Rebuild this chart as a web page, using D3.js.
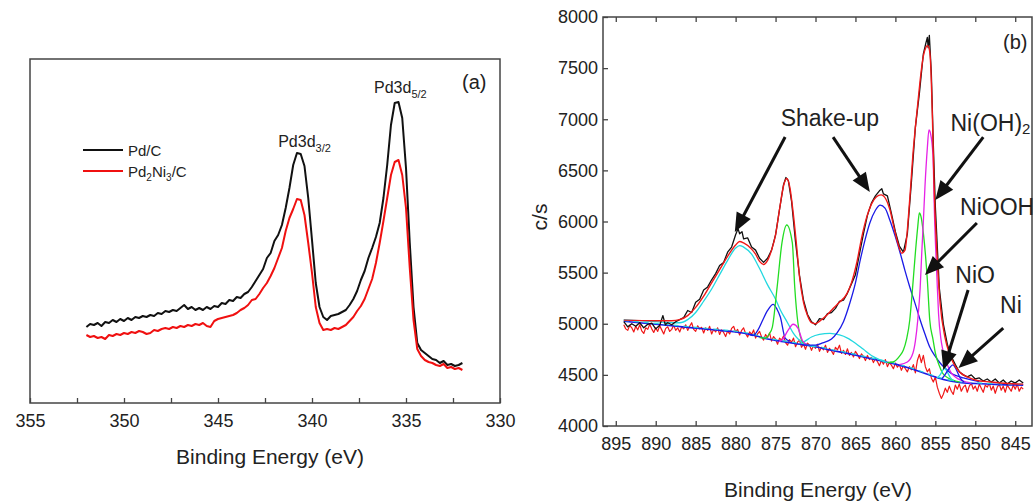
<!DOCTYPE html>
<html><head><meta charset="utf-8">
<script src="https://cdn.jsdelivr.net/npm/d3@7"></script>
<style>
body{margin:0;background:#fff}
svg{display:block}
text{font-family:"Liberation Sans",Arial,Helvetica,sans-serif;fill:#222}
</style>
</head><body>
<svg id="c" width="1035" height="501"></svg>
<script>
// ---------- Panel (a): Pd 3d, arbitrary intensity ----------
const energyA = d3.range(101).map(i => +(352 - 0.2 * i).toFixed(1)); // 352.0 ... 332.0 eV sampling grid
const pdC = [76,79,78,80,77,81,80,83,81,84, 82,85,83,86,85,87,86,88,87,90, 89,92,91,93,92,95,98,94,96,93,
  95,93,96,94,97,96,100,99,103,102, 106,105,109,111,116,122,128,134,145,150, 162,168,178,195,215,238,250,249,237,205,
  163,120,96,86,83,87,88,89,91,93, 98,104,112,123,132,145,155,166,180,205, 238,278,300,301,285,235,160,96,60,53,
  50,47,44,43,40,42,38,39,37,38, 40];
const pd2ni3C = [68,66,67,65,66,64,68,67,69,68, 70,69,71,70,72,71,69,70,73,72, 74,75,74,76,75,77,76,78,77,79,
  78,80,77,76,82,84,85,86,87,88, 90,93,95,98,103,104,109,115,120,127, 135,145,155,172,185,194,204,203,188,160,
  130,96,80,73,74,73,75,74,76,78, 82,86,92,97,104,114,124,140,160,182, 205,228,241,243,228,195,135,83,54,47,
  43,41,40,38,37,39,35,36,34,35, 33];
const xTicksA = [355,350,345,340,335,330];
const xMinorA = [352.5,347.5,342.5,337.5,332.5];

// ---------- Panel (b): Ni 2p, counts per second ----------
const rawB = [[894.0,5020],[893.5,4970],[893.0,5000],[892.5,4975],[892.0,5010],[891.5,4960],[891.0,4995],[890.5,5005],[890.0,4950],[889.5,4985],
 [889.1,5080],[888.8,4990],[888.5,5010],[888.0,4990],[887.5,5020],[887.0,5040],[886.5,5060],[886.0,5130],[885.5,5110],[885.0,5210],
 [884.5,5240],[884.0,5330],[883.5,5360],[883.0,5430],[882.5,5490],[882.0,5570],[881.5,5600],[881.0,5700],[880.5,5750],[880.0,5870],
 [879.7,5930],[879.5,5880],[879.2,5900],[879.0,5830],[878.5,5840],[878.0,5750],[877.5,5720],[877.0,5640],[876.5,5600],[876.0,5640],
 [875.5,5720],[875.0,5870],[874.5,6120],[874.0,6360],[873.7,6430],[873.4,6400],[873.0,6200],[872.5,5800],[872.0,5470],[871.5,5230],
 [871.0,5090],[870.5,5020],[870.0,4990],[869.5,5050],[869.0,5040],[868.5,5100],[868.0,5110],[867.5,5150],[867.0,5220],[866.5,5230],
 [866.0,5300],[865.5,5390],[865.0,5480],[864.5,5680],[864.0,5880],[863.5,6060],[863.0,6180],[862.5,6250],[862.0,6300],[861.7,6320],
 [861.5,6270],[861.0,6250],[860.5,6080],[860.0,5900],[859.5,5760],[859.0,5700],[858.5,5880],[858.0,6380],[857.5,6920],[857.0,7250],
 [856.5,7640],[856.2,7740],[856.0,7800],[855.9,7700],[855.75,7820],[855.5,7450],[855.25,6750],[855.0,6150],[854.5,5350],[854.0,5000],
 [853.5,4800],[853.0,4680],[852.5,4600],[852.0,4530],[851.5,4500],[851.0,4480],[850.5,4500],[850.0,4460],[849.5,4470],[849.0,4440],
 [848.5,4460],[848.0,4430],[847.5,4460],[847.0,4420],[846.5,4450],[846.0,4410],[845.5,4440],[845.0,4420],[844.5,4450],[844.0,4420]];
const fitB = [[894,5035],[890,5030],[888,5030],[887,5040],[886,5080],[885,5160],[884,5270],[883,5400],[882,5530],[881,5660],[880,5770],
 [879.5,5805],[879,5790],[878,5730],[877.5,5680],[877,5610],[876.5,5580],[876,5620],[875.5,5720],[875,5870],[874.5,6120],[874,6350],
 [873.6,6420],[873.2,6330],[872.8,6090],[872.4,5790],[872,5460],[871.5,5210],[871,5080],[870.5,5010],[870,5000],[869.4,5030],[868.5,5090],
 [867.8,5150],[867,5210],[866.1,5290],[865.5,5400],[864.8,5610],[864.2,5850],[863.6,6040],[863,6170],[862.4,6240],[861.8,6260],[861.2,6220],
 [860.7,6120],[860.2,5950],[859.7,5790],[859.2,5690],[858.8,5720],[858.4,6015],[858.1,6330],[857.8,6660],[857.5,6920],[857.2,7150],
 [856.8,7450],[856.5,7620],[856.2,7700],[856.0,7720],[855.8,7700],[855.6,7560],[855.36,7000],[855.15,6330],[854.8,5690],[854.4,5200],
 [853.8,4870],[853.2,4700],[852.7,4610],[852,4530],[851,4480],[850,4450],[848,4430],[846,4415],[844,4410]];
// second (red, noisy) trace near the background, sampled every 0.25 eV from 894.00 down to 844.00; one row per eV
const energyR = d3.range(201).map(i => 894 - 0.25 * i);
const residB = [
 4990,4950,4935,4985, 4960,4920,4975,4940, 4990,4930,4905,4960, 4945,4995,4950,4915, 4960,4925,4980,4940,
 4900,4955,4970,4925, 4945,4985,4935,4960, 4920,4970,4950,4990, 4935,4975,5010,4945, 4925,4980,4950,4965,
 4910,4960,4935,4975, 4900,4945,4920,4960, 4895,4940,4915,4875, 4930,4900,4955,4975, 4920,4945,4890,4935,
 4960,4905,4870,4920, 4895,4940,4860,4900, 4925,4870,4840,4895, 4865,4910,4830,4875, 4850,4800,4860,4840,
 4880,4815,4790,4845, 4820,4860,4775,4820, 4840,4770,4800,4750, 4810,4790,4740,4785, 4760,4800,4730,4770,
 4745,4790,4720,4760, 4735,4700,4770,4745, 4790,4710,4740,4700, 4755,4690,4720,4675, 4730,4700,4660,4705,
 4680,4640,4690,4650, 4670,4620,4660,4630, 4590,4640,4605,4650, 4580,4620,4595,4560, 4615,4575,4600,4545,
 4590,4560,4530,4580, 4550,4600,4520,4640, 4700,4620,4690,4580, 4530,4560,4470,4430, 4480,4380,4320,4270,
 4310,4370,4330,4390, 4340,4310,4400,4360, 4410,4340,4380,4400, 4330,4390,4420,4360, 4390,4340,4410,4370,
 4330,4400,4380,4420, 4350,4390,4320,4380, 4410,4350,4390,4330, 4400,4370,4340,4400, 4360,4410,4340,4380,
 4360];
const baseB = [[894,5025],[890,4995],[886,4965],[882,4935],[880,4920],[878,4893],[876,4850],[874,4825],[872,4800],[870,4775],[868,4740],
 [866,4710],[864,4675],[862,4640],[860,4605],[858,4560],[856,4505],[854,4455],[852,4425],[850,4415],[847,4405],[844,4400]];
const shake880 = [[894,5040],[890,5020],[887,5010],[886,5040],[885,5110],[884,5220],[883,5340],[882,5480],[881,5620],[880,5740],[879.5,5765],
 [879,5750],[878,5680],[877,5540],[876,5380],[875,5240],[874.4,5134],[873.5,5010],[872.8,4910],[871.3,4800],[870,4775]];
const peak875 = [[878.5,4900],[877.8,4885],[877.2,4940],[876.6,5037],[876,5130],[875.3,5190],[874.8,5140],[874.4,5066],[873.8,4860],[873.2,4830]];
const peak873 = [[877,4865],[876.3,4860],[875.8,4900],[875.4,4968],[874.8,5360],[874.2,5790],[873.6,5966],[872.9,5790],[872.6,5360],[872.2,5007],[871.6,4820],[871,4795]];
const peak872 = [[874.6,4826],[874.2,4840],[873.4,4940],[872.8,4995],[872.2,4958],[871.6,4830],[871.0,4795]];
const shake868 = [[872,4800],[871.3,4830],[870.5,4870],[869.5,4895],[868.2,4905],[867,4890],[866,4860],[865,4810],[864,4750],[863,4690],[862,4650],[861,4620]];
const shake862 = [[872,4800],[871,4790],[870,4790],[869.1,4812],[868,4850],[867.3,4910],[866.5,5020],[865.7,5203],[865,5400],[864.4,5623],
 [863.8,5820],[863.2,5985],[862.5,6110],[861.9,6160],[861.3,6130],[860.7,6015],[860,5850],[859.4,5692],[858.8,5520],[858.2,5360],[857.5,5190],
 [856.9,5037],[856.3,4900],[855.7,4773],[855,4680],[854.4,4616],[853.7,4560],[853.1,4518],[852.3,4490],[851.5,4470],[850.5,4450],[849.5,4435]];
const niooh = [[861,4620],[860.3,4626],[859.5,4680],[859,4743],[858.6,4850],[858.2,5037],[857.9,5300],[857.5,5692],[857.2,5950],[857.0,6083],
 [856.8,6050],[856.5,5887],[856.0,5428],[855.7,5037],[855.3,4850],[855.0,4714],[854.5,4590],[854.1,4518],[853.4,4470],[852.8,4450],[852,4430]];
const nioh2 = [[859.5,4600],[858.5,4626],[857.8,4714],[857.5,4830],[857.2,5037],[856.9,5350],[856.7,5692],[856.5,6000],[856.3,6337],[856.0,6720],
 [855.8,6895],[855.6,6860],[855.3,6650],[855.1,6050],[854.8,5450],[854.6,5100],[854.3,4850],[854.1,4760],[853.8,4660],[853.5,4600],[853.0,4520],
 [852.5,4479],[851.5,4440],[850.5,4420]];
const nio = [[854.8,4470],[854.4,4500],[854.1,4540],[853.9,4565],[853.7,4555],[853.5,4528],[853.1,4470],[852.7,4440]];
const niMetal = [[854.2,4460],[853.8,4500],[853.4,4550],[853.1,4580],[852.8,4597],[852.5,4570],[852.2,4520],[851.9,4470],[851.4,4430]];
const xTicksB = [895,890,885,880,875,870,865,860,855,850,845];
const yTicksB = [4000,4500,5000,5500,6000,6500,7000,7500,8000];
const arrowsB = [
  {tail:[873.8,6826], tip:[880.1,5897]},
  {tail:[867.8,6826], tip:[863.2,6289]},
  {tail:[849.0,6826], tip:[855.0,6210]},
  {tail:[849.8,5985], tip:[856.3,5477]},
  {tail:[850.9,5330], tip:[854.0,4548]},
  {tail:[846.5,4958], tip:[852.1,4567]}];
const labelsB = [
  {t:'Shake-up', sub:'', at:[868.2,6934], anchor:'middle'},
  {t:'Ni(OH)', sub:'2', at:[853.1,6885], anchor:'start'},
  {t:'NiOOH', sub:'', at:[851.9,6064], anchor:'start'},
  {t:'NiO', sub:'', at:[852.5,5399], anchor:'start'},
  {t:'Ni', sub:'', at:[846.9,5105], anchor:'start'}];

const svg = d3.select('#c');
const FONT = '"Liberation Sans", Arial, Helvetica, sans-serif';
function styleAxis(g, fs) {
  g.attr('font-size', fs).attr('font-family', FONT);
  g.select('.domain').remove();
  g.selectAll('line').attr('stroke', '#444').attr('stroke-width', 1.3);
  g.selectAll('text').attr('fill', '#222');
}

// ================= Panel A =================
const xA = d3.scaleLinear().domain([355, 330]).range([30, 500]);
const yA = d3.scaleLinear().domain([0, 344]).range([403, 59]);
const gA = svg.append('g');
gA.append('g').attr('transform', 'translate(0,403)')
  .call(d3.axisBottom(xA).tickValues(xTicksA).tickSize(-5).tickPadding(11).tickFormat(d3.format('d')))
  .call(g => styleAxis(g, 18));
gA.append('g').attr('transform', 'translate(0,403)')
  .call(d3.axisBottom(xA).tickValues(xMinorA).tickSize(-5).tickFormat(''))
  .call(g => styleAxis(g, 18));
gA.append('rect').attr('x', xA(355)).attr('y', yA(344)).attr('width', xA(330) - xA(355)).attr('height', yA(0) - yA(344))
  .attr('fill', 'none').attr('stroke', '#444').attr('stroke-width', 1.5);
const lineA = d3.line().x((d, i) => xA(energyA[i])).y(d => yA(d));
gA.append('path').datum(pdC).attr('d', lineA).attr('fill', 'none').attr('stroke', '#111').attr('stroke-width', 2).attr('stroke-linejoin', 'round');
gA.append('path').datum(pd2ni3C).attr('d', lineA).attr('fill', 'none').attr('stroke', '#f01010').attr('stroke-width', 2).attr('stroke-linejoin', 'round');
gA.append('text').attr('x', (xA(355) + xA(330)) / 2 + 5).attr('y', 464).attr('text-anchor', 'middle').attr('font-size', 21).text('Binding Energy (eV)');
gA.append('text').attr('x', 462).attr('y', 89).attr('font-size', 20).attr('font-family', '"Liberation Serif","Times New Roman",serif').text('(a)');
function subLabel(g, x, y, main, sub, fs, sfs) {
  const t = g.append('text').attr('x', x).attr('y', y).attr('font-size', fs);
  t.append('tspan').text(main);
  t.append('tspan').attr('font-size', sfs).attr('dy', fs * 0.3).text(sub);
  return t;
}
subLabel(gA, xA(336.7), yA(310), 'Pd3d', '5/2', 16, 11);
subLabel(gA, xA(341.8), yA(256), 'Pd3d', '3/2', 16, 11);
// legend
gA.append('line').attr('x1', 83).attr('x2', 123).attr('y1', 150).attr('y2', 150).attr('stroke', '#111').attr('stroke-width', 2);
gA.append('line').attr('x1', 83).attr('x2', 123).attr('y1', 171).attr('y2', 171).attr('stroke', '#f01010').attr('stroke-width', 2);
gA.append('text').attr('x', 128).attr('y', 155.5).attr('font-size', 15).text('Pd/C');
const lg = gA.append('text').attr('x', 128).attr('y', 176.5).attr('font-size', 15);
lg.append('tspan').text('Pd');
lg.append('tspan').attr('font-size', 10).attr('dy', 4).text('2');
lg.append('tspan').attr('dy', -4).text('Ni');
lg.append('tspan').attr('font-size', 10).attr('dy', 4).text('3');
lg.append('tspan').attr('dy', -4).text('/C');

// ================= Panel B =================
const xB = d3.scaleLinear().domain([896.6, 842.9]).range([603, 1032]);
const yB = d3.scaleLinear().domain([4000, 8000]).range([426, 17]);
const gB = svg.append('g');
gB.append('g').attr('transform', 'translate(0,426)')
  .call(d3.axisBottom(xB).tickValues(xTicksB).tickSize(-5).tickPadding(11).tickFormat(d3.format('d')))
  .call(g => styleAxis(g, 18));
gB.append('g').attr('transform', 'translate(0,17)')
  .call(d3.axisTop(xB).tickValues(xTicksB).tickSize(-5).tickFormat(''))
  .call(g => styleAxis(g, 18));
gB.append('g').attr('transform', 'translate(603,0)')
  .call(d3.axisLeft(yB).tickValues(yTicksB).tickSize(-5).tickPadding(5).tickFormat(d3.format('d')))
  .call(g => styleAxis(g, 18));
gB.append('rect').attr('x', 603).attr('y', 17).attr('width', 429).attr('height', 409)
  .attr('fill', 'none').attr('stroke', '#444').attr('stroke-width', 1.5);
gB.append('text').attr('x', 818).attr('y', 497).attr('text-anchor', 'middle').attr('font-size', 21).text('Binding Energy (eV)');
gB.append('text').attr('transform', 'translate(547,217) rotate(-90)').attr('text-anchor', 'middle').attr('font-size', 21).text('c/s');
gB.append('text').attr('x', 1003).attr('y', 49).attr('font-size', 20).attr('font-family', '"Liberation Serif","Times New Roman",serif').text('(b)');

const lineB = d3.line().x(d => xB(d[0])).y(d => yB(d[1]));
const smoothB = d3.line().x(d => xB(d[0])).y(d => yB(d[1])).curve(d3.curveMonotoneX);
const lineR = d3.line().x((d, i) => xB(energyR[i])).y(d => yB(d));
function drawB(data, color, w, gen, dash) {
  const p = gB.append('path').datum(data).attr('d', gen).attr('fill', 'none').attr('stroke', color)
    .attr('stroke-width', w).attr('stroke-linejoin', 'round');
  if (dash) p.attr('stroke-dasharray', dash);
}
drawB(residB, '#f01818', 1.2, lineR);
drawB(baseB, '#1a1ae6', 1.6, smoothB);
drawB(baseB.map(d => [d[0], d[1] + 8]), '#22d4dc', 1.2, smoothB, '5,5');
drawB(shake880, '#22d8e0', 1.3, smoothB);
drawB(shake868, '#22d8e0', 1.3, smoothB);
drawB(peak875, '#1a1ae6', 1.3, smoothB);
drawB(peak873, '#22dd22', 1.3, smoothB);
drawB(peak872, '#e622e6', 1.3, smoothB);
drawB(shake862, '#1a1ae6', 1.3, smoothB);
drawB(niooh, '#22dd22', 1.3, smoothB);
drawB(nioh2, '#e622e6', 1.3, smoothB);
drawB(nio, '#22d8e0', 1.3, smoothB);
drawB(niMetal, '#1a1ae6', 1.3, smoothB);
drawB(rawB, '#111', 1.3, lineB);
drawB(fitB, '#f01818', 1.4, smoothB);

// arrows
arrowsB.forEach(a => {
  const x1 = xB(a.tail[0]), y1 = yB(a.tail[1]), x2 = xB(a.tip[0]), y2 = yB(a.tip[1]);
  const dx = x2 - x1, dy = y2 - y1, L = Math.hypot(dx, dy), ux = dx / L, uy = dy / L;
  const hl = 19, hw = 8, bx = x2 - ux * hl, by = y2 - uy * hl;
  gB.append('line').attr('x1', x1).attr('y1', y1).attr('x2', bx + ux * 2).attr('y2', by + uy * 2)
    .attr('stroke', '#111').attr('stroke-width', 3);
  gB.append('path').attr('d', `M${x2},${y2}L${bx - uy * hw},${by + ux * hw}L${bx + uy * hw},${by - ux * hw}Z`).attr('fill', '#111');
});
labelsB.forEach(l => {
  const t = gB.append('text').attr('x', xB(l.at[0])).attr('y', yB(l.at[1])).attr('font-size', 23).attr('text-anchor', l.anchor);
  t.append('tspan').text(l.t);
  if (l.sub) t.append('tspan').attr('font-size', 15).attr('dy', 3).text(l.sub);
});
</script>
</body></html>
